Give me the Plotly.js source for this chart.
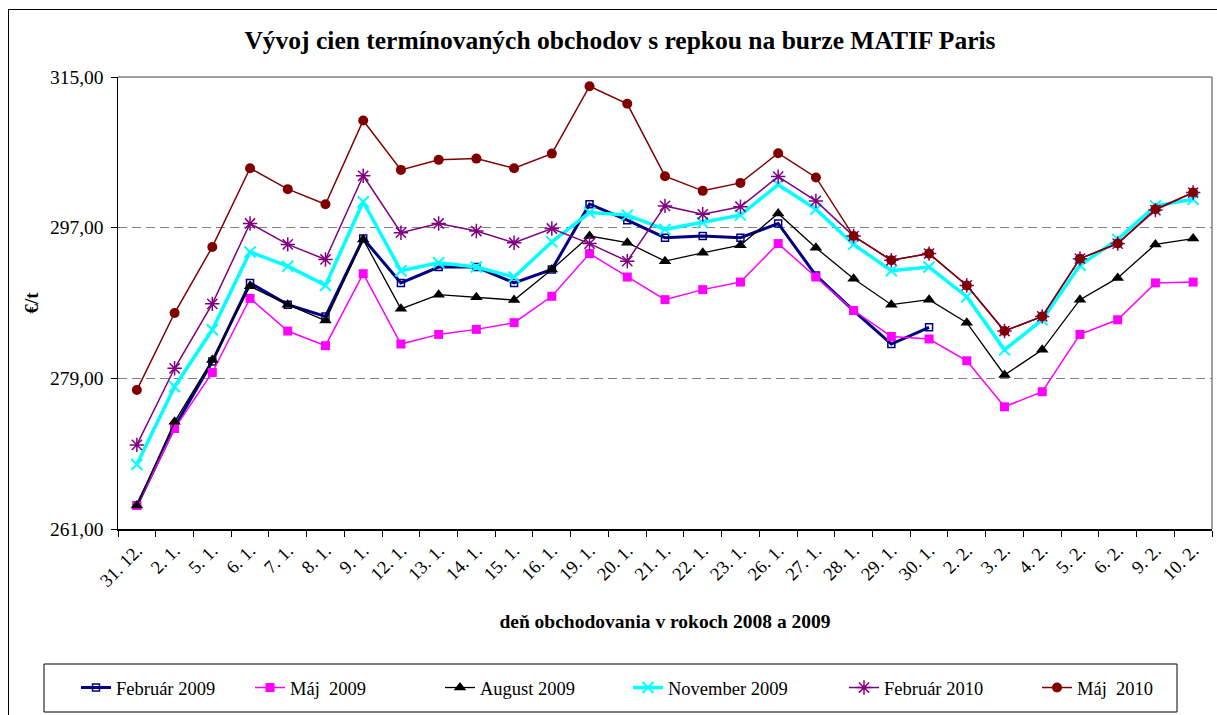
<!DOCTYPE html>
<html>
<head>
<meta charset="utf-8">
<script src="https://cdn.plot.ly/plotly-3.0.1.min.js"></script>
<style>
html, body { margin: 0; padding: 0; overflow: hidden; background: #fff; }
#chart { width: 1217px; height: 715px; }
#frame { position: absolute; left: 8px; top: 9px; width: 1400px; height: 900px; border: 1.5px solid #000; pointer-events: none; }
</style>
</head>
<body>
<div id="chart"></div>
<div id="frame"></div>
<script>
const days = ['31. 12.', '2. 1.', '5. 1.', '6. 1.', '7. 1.', '8. 1.', '9. 1.', '12. 1.', '13. 1.', '14. 1.',
  '15. 1.', '16. 1.', '19. 1.', '20. 1.', '21. 1.', '22. 1.', '23. 1.', '26. 1.', '27. 1.', '28. 1.',
  '29. 1.', '30. 1.', '2. 2.', '3. 2.', '4. 2.', '5. 2.', '6. 2.', '9. 2.', '10. 2.'];

const februar2009 = [263.8, 273.2, 281.0, 290.4, 287.8, 286.4, 295.7, 290.4, 292.3, 292.3,
  290.4, 292.0, 299.8, 297.9, 295.8, 296.0, 295.8, 297.5, 291.3, 287.1,
  283.1, 285.1, null, null, null, null, null, null, null];
const maj2009 = [263.8, 273.0, 279.7, 288.55, 284.65, 282.9, 291.5, 283.1, 284.25, 284.85,
  285.65, 288.8, 293.9, 291.1, 288.4, 289.6, 290.5, 295.1, 291.1, 287.1,
  284.0, 283.7, 281.1, 275.6, 277.4, 284.25, 286.0, 290.4, 290.5];
const august2009 = [263.8, 273.8, 281.2, 290.0, 287.8, 285.9, 295.6, 287.3, 289.0, 288.7,
  288.35, 292.0, 296.0, 295.2, 293.0, 294.0, 294.9, 298.7, 294.6, 290.9,
  287.8, 288.4, 285.65, 279.4, 282.4, 288.4, 291.0, 295.0, 295.7];
const november2009 = [268.7, 278.0, 284.8, 294.1, 292.4, 290.1, 300.1, 291.85, 292.8, 292.3,
  291.1, 295.3, 298.8, 298.5, 296.8, 297.6, 298.5, 302.15, 299.2, 295.0,
  291.85, 292.3, 288.75, 282.4, 286.0, 292.5, 295.6, 299.6, 300.4];
const februar2010 = [271.05, 280.2, 287.9, 297.5, 295.0, 293.2, 303.2, 296.4, 297.5, 296.6,
  295.2, 296.9, 295.1, 293.0, 299.6, 298.6, 299.5, 303.1, 300.2, 296.0,
  293.1, 293.9, 290.1, 284.65, 286.4, 293.3, 295.1, 299.1, 301.2];
const maj2010 = [277.6, 286.8, 294.7, 304.1, 301.6, 299.8, 309.8, 303.9, 305.1, 305.25,
  304.1, 305.85, 313.9, 311.8, 303.15, 301.4, 302.35, 305.9, 303.0, 296.0,
  293.1, 293.9, 290.1, 284.65, 286.4, 293.3, 295.1, 299.2, 301.2];

const yTicks = [261, 279, 297, 315];
const names = ['Február 2009', 'Máj  2009', 'August 2009', 'November 2009', 'Február 2010', 'Máj  2010'];

const serif = 'Liberation Serif, Times New Roman, serif';

const traces = [
  { y: februar2009, name: names[0], line: { color: '#000080', width: 3 },
    marker: { symbol: 'square-open', size: 7, color: '#000080', line: { width: 1.5, color: '#000080' } }, legendwidth: 129 },
  { y: maj2009, name: names[1], line: { color: '#FF00FF', width: 1.5 },
    marker: { symbol: 'square', size: 9, color: '#FF00FF' }, legendwidth: 145 },
  { y: august2009, name: names[2], line: { color: '#000000', width: 1.3 },
    marker: { symbol: 'triangle-up', size: 11, color: '#000000' }, legendwidth: 143 },
  { y: november2009, name: names[3], line: { color: '#00FFFF', width: 3.5 },
    marker: { symbol: 'x-thin-open', size: 11, color: '#00FFFF', line: { width: 2, color: '#00FFFF' } }, legendwidth: 171 },
  { y: februar2010, name: names[4], line: { color: '#800080', width: 1.5 },
    marker: { symbol: 'asterisk-open', size: 12, color: '#800080', line: { width: 1.5, color: '#800080' } }, legendwidth: 148 },
  { y: maj2010, name: names[5], line: { color: '#800000', width: 1.5 },
    marker: { symbol: 'circle', size: 10, color: '#800000' }, legendwidth: 100 }
].map(t => Object.assign({ type: 'scatter', mode: 'lines+markers', x: days, connectgaps: false, hoverinfo: 'x+y+name' }, t));

const L = 118, R = 1212, T = 77, B = 529, W = 1217, H = 715;
const pw = R - L, ph = B - T;
const px = v => (v - L) / pw;
const py = v => (B - v) / ph;

const layout = {
  width: W, height: H,
  margin: { l: L, r: W - R, t: T, b: H - B, pad: 0 },
  paper_bgcolor: '#ffffff', plot_bgcolor: '#ffffff',
  separators: ',.',
  font: { family: serif, color: '#000', size: 16 },
  title: { text: '<b>Vývoj cien termínovaných obchodov s repkou na burze MATIF Paris</b>',
    font: { family: serif, size: 25.5, color: '#000' },
    xref: 'container', yref: 'container', x: 620 / W, y: 1 - 40 / H, xanchor: 'center', yanchor: 'middle' },
  xaxis: {
    type: 'category', range: [-0.5, days.length - 0.5], tickson: 'boundaries',
    ticks: 'outside', ticklen: 6, tickcolor: '#000', tickwidth: 1,
    showline: true, linecolor: '#000', linewidth: 1.5, showgrid: false, zeroline: false,
    tickangle: -45, tickfont: { family: serif, size: 18.5, color: '#000' }, ticklabelstandoff: 2,
    title: { text: '<b>deň obchodovania v rokoch 2008 a 2009</b>', font: { family: serif, size: 19.5, color: '#000' }, standoff: 24 },
    automargin: false, fixedrange: true
  },
  yaxis: {
    range: [261, 315], tickvals: yTicks, tickformat: '.2f',
    ticks: 'outside', ticklen: 6, tickcolor: '#000', tickwidth: 1,
    showline: true, linecolor: '#000', linewidth: 1.5, zeroline: false,
    showgrid: true, gridcolor: '#808080', gridwidth: 1, griddash: '9px,5px',
    tickfont: { family: serif, size: 19.5, color: '#000' }, ticklabelstandoff: 3,
    title: { text: '<b>€/t</b>', font: { family: serif, size: 19, color: '#000' }, standoff: 6 },
    automargin: false, fixedrange: true
  },
  showlegend: true,
  legend: {
    orientation: 'h', x: px(76), y: py(688), xanchor: 'left', yanchor: 'middle',
    bgcolor: 'rgba(0,0,0,0)', borderwidth: 0,
    font: { family: serif, size: 18.5, color: '#000' }, traceorder: 'normal'
  },
  shapes: [
    { type: 'line', xref: 'paper', yref: 'paper', x0: 0, x1: 1, y0: 1, y1: 1, line: { color: '#808080', width: 1.5 } },
    { type: 'line', xref: 'paper', yref: 'paper', x0: 1, x1: 1, y0: 0, y1: 1, line: { color: '#808080', width: 1.5 } },
    { type: 'rect', xref: 'paper', yref: 'paper', x0: px(44), x1: px(1177), y0: py(712), y1: py(664), line: { color: '#000', width: 1 }, fillcolor: 'rgba(0,0,0,0)' }
  ]
};

Plotly.newPlot('chart', traces, layout, { displayModeBar: false, staticPlot: true });
</script>
</body>
</html>
